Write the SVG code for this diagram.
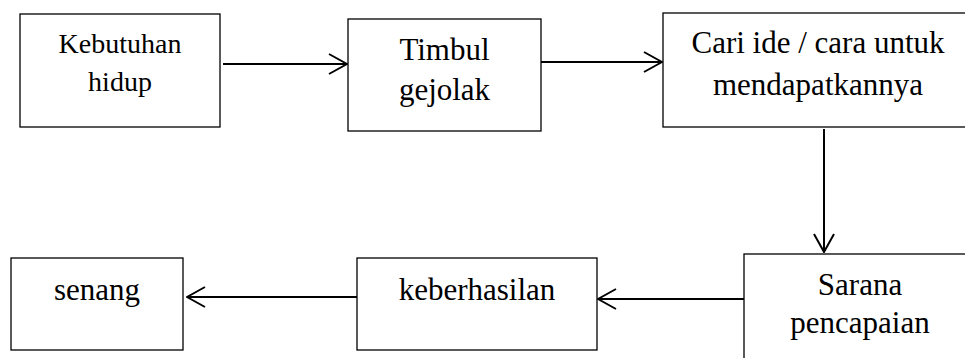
<svg xmlns="http://www.w3.org/2000/svg" width="965" height="358" viewBox="0 0 965 358">
<style>
.box{fill:#fff;stroke:#000;stroke-width:1.3}
.t{font-family:'Liberation Serif','DejaVu Serif',serif;font-size:31px;fill:#000;text-anchor:middle}
.s28{font-size:28px}
.conn{fill:none;stroke:#000;stroke-width:2}
</style>
<defs>
<marker id="ah" viewBox="0 0 20 22" refX="19" refY="11" markerWidth="20" markerHeight="22" markerUnits="userSpaceOnUse" orient="auto">
<path d="M1,1 L19,11 L1,21" fill="none" stroke="#000" stroke-width="2"/>
</marker>
</defs>
<rect width="965" height="358" fill="#fff"/>
<g id="n1">
<rect class="box" x="20" y="14" width="200" height="113"/>
<text class="t s28" x="120" y="53" font-family="Liberation Serif">Kebutuhan</text>
<text class="t s28" x="120" y="91" font-family="Liberation Serif">hidup</text>
</g>
<g id="n2">
<rect class="box" x="348" y="19" width="193" height="112"/>
<text class="t" x="444.5" y="60">Timbul</text>
<text class="t" x="444.5" y="100">gejolak</text>
</g>
<g id="n3">
<rect class="box" x="663" y="13" width="310" height="114"/>
<text class="t" x="818" y="53">Cari ide / cara untuk</text>
<text class="t" x="818" y="95">mendapatkannya</text>
</g>
<g id="n4">
<rect class="box" x="744" y="254" width="240" height="120"/>
<text class="t" x="860" y="295">Sarana</text>
<text class="t" x="860" y="333">pencapaian</text>
</g>
<g id="n5">
<rect class="box" x="357" y="258" width="240" height="92"/>
<text class="t" x="477" y="300">keberhasilan</text>
</g>
<g id="n6">
<rect class="box" x="11" y="258" width="172" height="92"/>
<text class="t" x="97" y="300">senang</text>
</g>
<g id="connectors">
<line class="conn" x1="223" y1="64" x2="347" y2="64" marker-end="url(#ah)"/>
<line class="conn" x1="541" y1="62" x2="662" y2="62" marker-end="url(#ah)"/>
<line class="conn" x1="824" y1="129" x2="824" y2="252" marker-end="url(#ah)"/>
<line class="conn" x1="744" y1="299" x2="598" y2="299" marker-end="url(#ah)"/>
<line class="conn" x1="357" y1="297" x2="187" y2="297" marker-end="url(#ah)"/>
</g>
</svg>
